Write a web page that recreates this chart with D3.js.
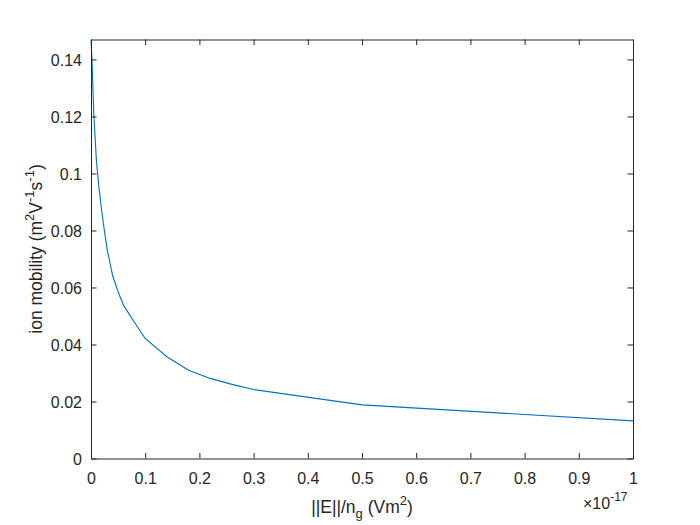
<!DOCTYPE html>
<html><head><meta charset="utf-8">
<script src="https://cdn.jsdelivr.net/npm/d3@7"></script>
<style>body{margin:0;background:#fff}svg{display:block}text{font-family:"Liberation Sans",Arial,Helvetica,sans-serif;fill:#262626}</style>
</head><body>
<svg id="c" width="700" height="525"></svg>
<script>
// E/n_g in units of 1e-17 V m^2
const fieldValues = [0, 0.002, 0.005, 0.01, 0.015, 0.02, 0.025, 0.03, 0.04, 0.05, 0.06, 0.08, 0.1, 0.14, 0.18, 0.22, 0.26, 0.3, 0.5, 1.0];
// ion mobility m^2 V^-1 s^-1
const mobilityValues = [0.147, 0.139, 0.1215, 0.1045, 0.0945, 0.0865, 0.0795, 0.0732, 0.0641, 0.0585, 0.0538, 0.0478, 0.0421, 0.0357, 0.031, 0.0281, 0.026, 0.0242, 0.0188, 0.0132];
const xTicks = [0, 0.1, 0.2, 0.3, 0.4, 0.5, 0.6, 0.7, 0.8, 0.9, 1];
const yTicks = [0, 0.02, 0.04, 0.06, 0.08, 0.1, 0.12, 0.14];

const svg = d3.select("#c");
const L = 91, R = 633, T = 39.5, B = 458.5;
const x = d3.scaleLinear().domain([0, 1]).range([L, R]);
const y = d3.scaleLinear().domain([0, 0.147]).range([B, T]);
const ink = "#262626";

svg.append("rect").attr("x", L).attr("y", T).attr("width", R - L).attr("height", B - T)
  .attr("fill", "#fff").attr("stroke", "none");

// line
svg.append("path")
  .datum(fieldValues.map((v, i) => [v, mobilityValues[i]]))
  .attr("fill", "none").attr("stroke", "#0072BD").attr("stroke-width", 1.1)
  .attr("d", d3.line().x(d => x(d[0])).y(d => y(d[1])));

const tl = 5.5;
const xb = svg.append("g").attr("transform", `translate(0,${B})`)
  .call(d3.axisBottom(x).tickValues(xTicks).tickSizeInner(-tl).tickSizeOuter(0).tickPadding(15).tickFormat(d => String(+d.toFixed(2))));
const xt = svg.append("g").attr("transform", `translate(0,${T})`)
  .call(d3.axisTop(x).tickValues(xTicks).tickSizeInner(-tl).tickSizeOuter(0).tickFormat(""));
const yl = svg.append("g").attr("transform", `translate(${L},0)`)
  .call(d3.axisLeft(y).tickValues(yTicks).tickSizeInner(-tl).tickSizeOuter(0).tickPadding(9).tickFormat(d => String(+d.toFixed(2))));
const yr = svg.append("g").attr("transform", `translate(${R},0)`)
  .call(d3.axisRight(y).tickValues(yTicks).tickSizeInner(-tl).tickSizeOuter(0).tickFormat(""));
[xb, xt, yl, yr].forEach(g => {
  g.selectAll("path.domain").attr("stroke", ink).attr("stroke-width", 1);
  g.selectAll(".tick line").attr("stroke", ink);
  g.selectAll(".tick text").style("font-family", '"Liberation Sans",Arial,sans-serif')
    .style("font-size", "16px").attr("fill", ink);
});
xb.selectAll(".tick text").attr("dy", null).attr("y", 25).attr("dominant-baseline", "auto");
yl.selectAll(".tick text").attr("dy", "0.36em");

// exponent
const ex = svg.append("text").attr("x", 583).attr("y", 509).style("font-size", "16px");
ex.append("tspan").text("\u00d710");
ex.append("tspan").attr("dy", -8).style("font-size", "12px").text("-17");

// x label
const xlab = svg.append("text").attr("x", (L + R) / 2).attr("y", 513).attr("text-anchor", "middle").style("font-size", "17.5px");
xlab.append("tspan").text("||E||/n");
xlab.append("tspan").attr("dy", 5).style("font-size", "13px").text("g");
xlab.append("tspan").attr("dy", -5).text(" (Vm");
xlab.append("tspan").attr("dy", -8).style("font-size", "13px").text("2");
xlab.append("tspan").attr("dy", 8).text(")");

// y label
const ylab = svg.append("text").attr("transform", `translate(42,${(T + B) / 2}) rotate(-90)`)
  .attr("text-anchor", "middle").style("font-size", "17.5px");
ylab.append("tspan").text("ion mobility (m");
ylab.append("tspan").attr("dy", -8).style("font-size", "13px").text("2");
ylab.append("tspan").attr("dy", 8).text("V");
ylab.append("tspan").attr("dy", -8).style("font-size", "13px").text("-1");
ylab.append("tspan").attr("dy", 8).text("s");
ylab.append("tspan").attr("dy", -8).style("font-size", "13px").text("-1");
ylab.append("tspan").attr("dy", 8).text(")");
</script>
</body></html>
